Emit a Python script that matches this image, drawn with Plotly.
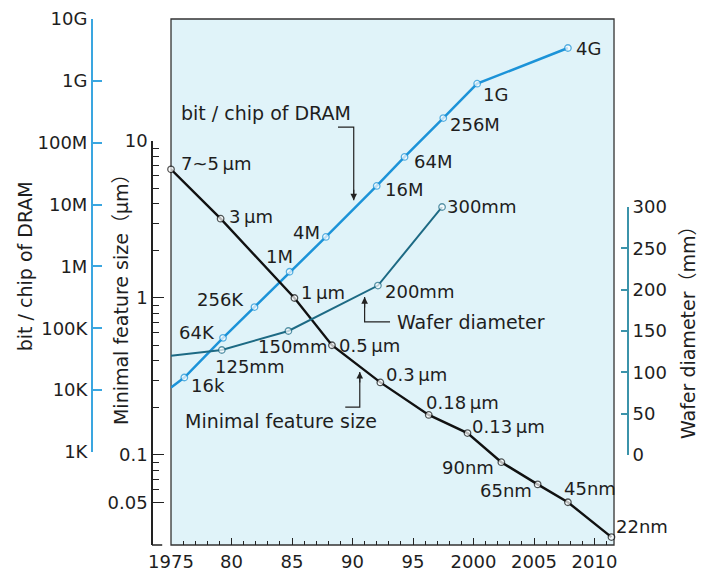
import numpy as np
import plotly.graph_objects as go

# ---------------- data ----------------
dram_years = [1975.0, 1976.1, 1979.3, 1981.9, 1984.8, 1987.8, 1992.0, 1994.3, 1997.5, 2000.3, 2007.8]
dram_bits = [1.1e4, 1.6e4, 7.0e4, 2.2e5, 8.2e5, 3.0e6, 2.0e7, 5.9e7, 2.5e8, 9.0e8, 3.4e9]
dram_labels = ["", "16k", "64K", "256K", "1M", "4M", "16M", "64M", "256M", "1G", "4G"]

feat_years = [1975.0, 1979.1, 1985.2, 1988.3, 1992.3, 1996.3, 1999.5, 2002.3, 2005.3, 2007.8, 2011.4]
feat_size = [6.6, 3.2, 1.0, 0.50, 0.29, 0.18, 0.138, 0.090, 0.065, 0.050, 0.030]
feat_labels = ["7~5\u2009μm", "3\u2009μm", "1\u2009μm", "0.5\u2009μm", "0.3\u2009μm", "0.18\u2009μm",
               "0.13\u2009μm", "90nm", "65nm", "45nm", "22nm"]

wafer_years = [1975.0, 1979.2, 1984.7, 1992.1, 1997.4]
wafer_diam = [120, 127, 150, 205, 300]
wafer_labels = ["", "125mm", "150mm", "200mm", "300mm"]

x_tickvals = [1975, 1980, 1985, 1990, 1995, 2000, 2005, 2010]
x_ticktext = ["1975", "80", "85", "90", "95", "2000", "2005", "2010"]
dram_tickvals = [1e3, 1e4, 1e5, 1e6, 1e7, 1e8, 1e9, 1e10]
dram_ticktext = ["1K", "10K", "100K", "1M", "10M", "100M", "1G", "10G"]
feat_tickvals = [0.05, 0.1, 1, 10]
feat_ticktext = ["0.05", "0.1", "1", "10"]
feat_minor = [0.06, 0.07, 0.08, 0.09, 0.2, 0.3, 0.4, 0.5, 0.6, 0.7, 0.8, 0.9,
              2, 3, 4, 5, 6, 7, 8, 9]
wafer_tickvals = [0, 50, 100, 150, 200, 250, 300]

# ---------------- styles ----------------
FONT = "DejaVu Sans, Noto Sans CJK JP, sans-serif"
DRAM_COLOR = "#1c93d8"
DRAM_AXIS = "#3aa6e0"
WAFER_COLOR = "#1d6a84"
WAFER_AXIS = "#3b93aa"
BG = "#e0f3f9"
TXT = "#1e1e1e"

# label offsets (xanchor, xshift, yshift) in pixels
dram_off = [("left", 0, 0), ("left", 5, -8), ("right", -6, 5), ("right", -8, 8), ("right", 5, 15),
            ("right", -4, 4), ("left", 6, -4), ("left", 7, -5), ("left", 5, -6), ("left", 4, -11),
            ("left", 6, -1)]
feat_off = [("left", 8, 6), ("left", 6, 2), ("left", 5, 5), ("left", 5, 0), ("left", 4, 8),
            ("left", -5, 12), ("left", 3, 7), ("right", -5, -5), ("right", -4, -6),
            ("left", -6, 14), ("left", 3, 11)]
wafer_off = [("left", 0, 0), ("left", -9, -16), ("center", 4, -16), ("left", 5, -6), ("left", 3, 0)]

fig = go.Figure()

def msizes(labels, first_marker):
    return [(6.5 if (l or (i == 0 and first_marker)) else 0) for i, l in enumerate(labels)]

fig.add_trace(go.Scatter(
    x=wafer_years, y=wafer_diam, xaxis="x", yaxis="y3", mode="lines+markers",
    line=dict(color=WAFER_COLOR, width=2),
    marker=dict(size=msizes(wafer_labels, False), color="white", line=dict(color=WAFER_COLOR, width=1.3)),
    cliponaxis=False, hoverinfo="skip", showlegend=False))

fig.add_trace(go.Scatter(
    x=dram_years, y=dram_bits, xaxis="x", yaxis="y", mode="lines+markers",
    line=dict(color=DRAM_COLOR, width=2.5),
    marker=dict(size=msizes(dram_labels, False), color="white", line=dict(color=DRAM_COLOR, width=1.3)),
    cliponaxis=False, hoverinfo="skip", showlegend=False))

fig.add_trace(go.Scatter(
    x=feat_years, y=feat_size, xaxis="x", yaxis="y2", mode="lines+markers",
    line=dict(color="#111111", width=2.4),
    marker=dict(size=msizes(feat_labels, True), color="white", line=dict(color="#111111", width=1.3)),
    cliponaxis=False, hoverinfo="skip", showlegend=False))

# callout leader lines (real data units)
callouts = [
    ("y", [1988.8, 1990.1, 1990.1], [1.78e8, 1.78e8, 1.17e7], "down"),
    ("y3", [1993.1, 1991.0, 1991.0], [161, 161, 191], "up"),
    ("y2", [1989.4, 1990.6, 1990.6], [0.202, 0.202, 0.338], "up"),
]
annotations = []
for ax_id, xs, ys, d in callouts:
    fig.add_trace(go.Scatter(x=xs, y=ys, xaxis="x", yaxis=ax_id, mode="lines",
                             line=dict(color="#222222", width=1.2), hoverinfo="skip",
                             showlegend=False, cliponaxis=False))
    log = ax_id in ("y", "y2")
    ytip = np.log10(ys[-1]) if log else ys[-1]
    annotations.append(dict(x=xs[-1], y=ytip, xref="x", yref=ax_id, text="", showarrow=True,
                            ax=0, ay=(-12 if d == "down" else 12), arrowhead=2, arrowsize=1.1,
                            arrowwidth=1.2, arrowcolor="#222222", standoff=0))

def add_labels(xs, ys, labels, offs, yref, log):
    for x, y, t, (anc, dx, dy) in zip(xs, ys, labels, offs):
        if not t:
            continue
        annotations.append(dict(x=x, y=(np.log10(y) if log else y), xref="x", yref=yref, text=t,
                                showarrow=False, xanchor=anc, yanchor="middle", xshift=dx, yshift=dy,
                                font=dict(family=FONT, size=18, color=TXT)))

add_labels(dram_years, dram_bits, dram_labels, dram_off, "y", True)
add_labels(feat_years, feat_size, feat_labels, feat_off, "y2", True)
add_labels(wafer_years, wafer_diam, wafer_labels, wafer_off, "y3", False)

annotations += [
    dict(x=1975.7, y=8.48, xref="x", yref="y", text="bit / chip of DRAM", showarrow=False,
         xanchor="left", yanchor="middle", font=dict(family=FONT, size=19, color=TXT)),
    dict(x=1993.5, y=161, xref="x", yref="y3", text="Wafer diameter", showarrow=False,
         xanchor="left", yanchor="middle", font=dict(family=FONT, size=19, color=TXT)),
    dict(x=1976.0, y=-0.783, xref="x", yref="y2", text="Minimal feature size", showarrow=False,
         xanchor="left", yanchor="middle", font=dict(family=FONT, size=19, color=TXT)),
]

annotations += [
    dict(x=-0.125, y=0.530, xref="paper", yref="paper", text="bit / chip of DRAM", textangle=-90,
         xanchor="center", yanchor="middle",
         showarrow=False, font=dict(family=FONT, size=19, color=TXT)),
    dict(x=0.054, y=0.477, xref="paper", yref="paper", text="Minimal feature size（μm）", textangle=-90,
         xanchor="center", yanchor="middle",
         showarrow=False, font=dict(family=FONT, size=19, color=TXT)),
    dict(x=1.112, y=0.4125, xref="paper", yref="paper", text="Wafer diameter（mm）", textangle=-90,
         xanchor="center", yanchor="middle",
         showarrow=False, font=dict(family=FONT, size=19, color=TXT)),
]

# the page places the figure 8 px in from the top-left corner
fig.update_layout(
    width=704, height=568, autosize=False,
    margin=dict(l=84, r=84, t=11, b=31, pad=0, autoexpand=False),
    paper_bgcolor="white", plot_bgcolor="rgba(0,0,0,0)",
    font=dict(family=FONT, size=18, color=TXT),
    showlegend=False,
    xaxis=dict(domain=[0.1474, 0.9739], range=[1975, 2011.61], anchor="free", position=0,
               automargin=False,
               showline=False, showgrid=False, zeroline=False,
               tickvals=x_tickvals, ticktext=x_ticktext, ticks="inside", ticklen=7,
               tickcolor="#222222", tickwidth=1.2, ticklabelstandoff=4,
               minor=dict(dtick=1, tick0=1975, ticks="inside", ticklen=4, tickcolor="#222222",
                          tickwidth=1, showgrid=False),
               tickfont=dict(family=FONT, size=18, color=TXT)),
    yaxis=dict(type="log", domain=[0.1768, 1.0], range=[3, 10], anchor="free", position=0, side="left",
               automargin=False,
               showline=True, linecolor=DRAM_AXIS, linewidth=2, showgrid=False, zeroline=False,
               tickvals=dram_tickvals, ticktext=dram_ticktext, ticks="inside", ticklen=9,
               tickcolor=DRAM_AXIS, tickwidth=2,
               tickfont=dict(family=FONT, size=18, color=TXT)),
    yaxis2=dict(type="log", domain=[0.0, 0.7681], range=[-1.5732, 1.0], anchor="free", position=0.1119,
                automargin=False,
                side="left", showline=True, linecolor="#222222", linewidth=1.5, showgrid=False,
                zeroline=False, tickvals=feat_tickvals, ticktext=feat_ticktext, ticks="inside",
                ticklen=11, tickcolor="#222222", tickwidth=1.3,
                minor=dict(tickvals=feat_minor, ticks="inside", ticklen=6, tickcolor="#222222",
                           tickwidth=1, showgrid=False),
                tickfont=dict(family=FONT, size=18, color=TXT)),
    yaxis3=dict(domain=[0.1711, 0.6426], range=[0, 300], anchor="free", position=1.0, side="right",
                automargin=False,
                showline=True, linecolor=WAFER_AXIS, linewidth=1.8, showgrid=False, zeroline=False,
                tickvals=wafer_tickvals, ticks="inside", ticklen=6, tickcolor=WAFER_AXIS, tickwidth=1.8,
                tickfont=dict(family=FONT, size=18, color=TXT)),
    annotations=annotations,
    shapes=[
        dict(type="rect", xref="x domain", yref="paper", x0=0, x1=1, y0=0, y1=1,
             fillcolor=BG, line=dict(color="#333333", width=1.3), layer="below"),
        dict(type="line", xref="paper", yref="paper", x0=0.1119, x1=0.131, y0=0, y1=0,
             line=dict(color="#222222", width=1.5)),
    ],
)

fig.write_html("out.html")
